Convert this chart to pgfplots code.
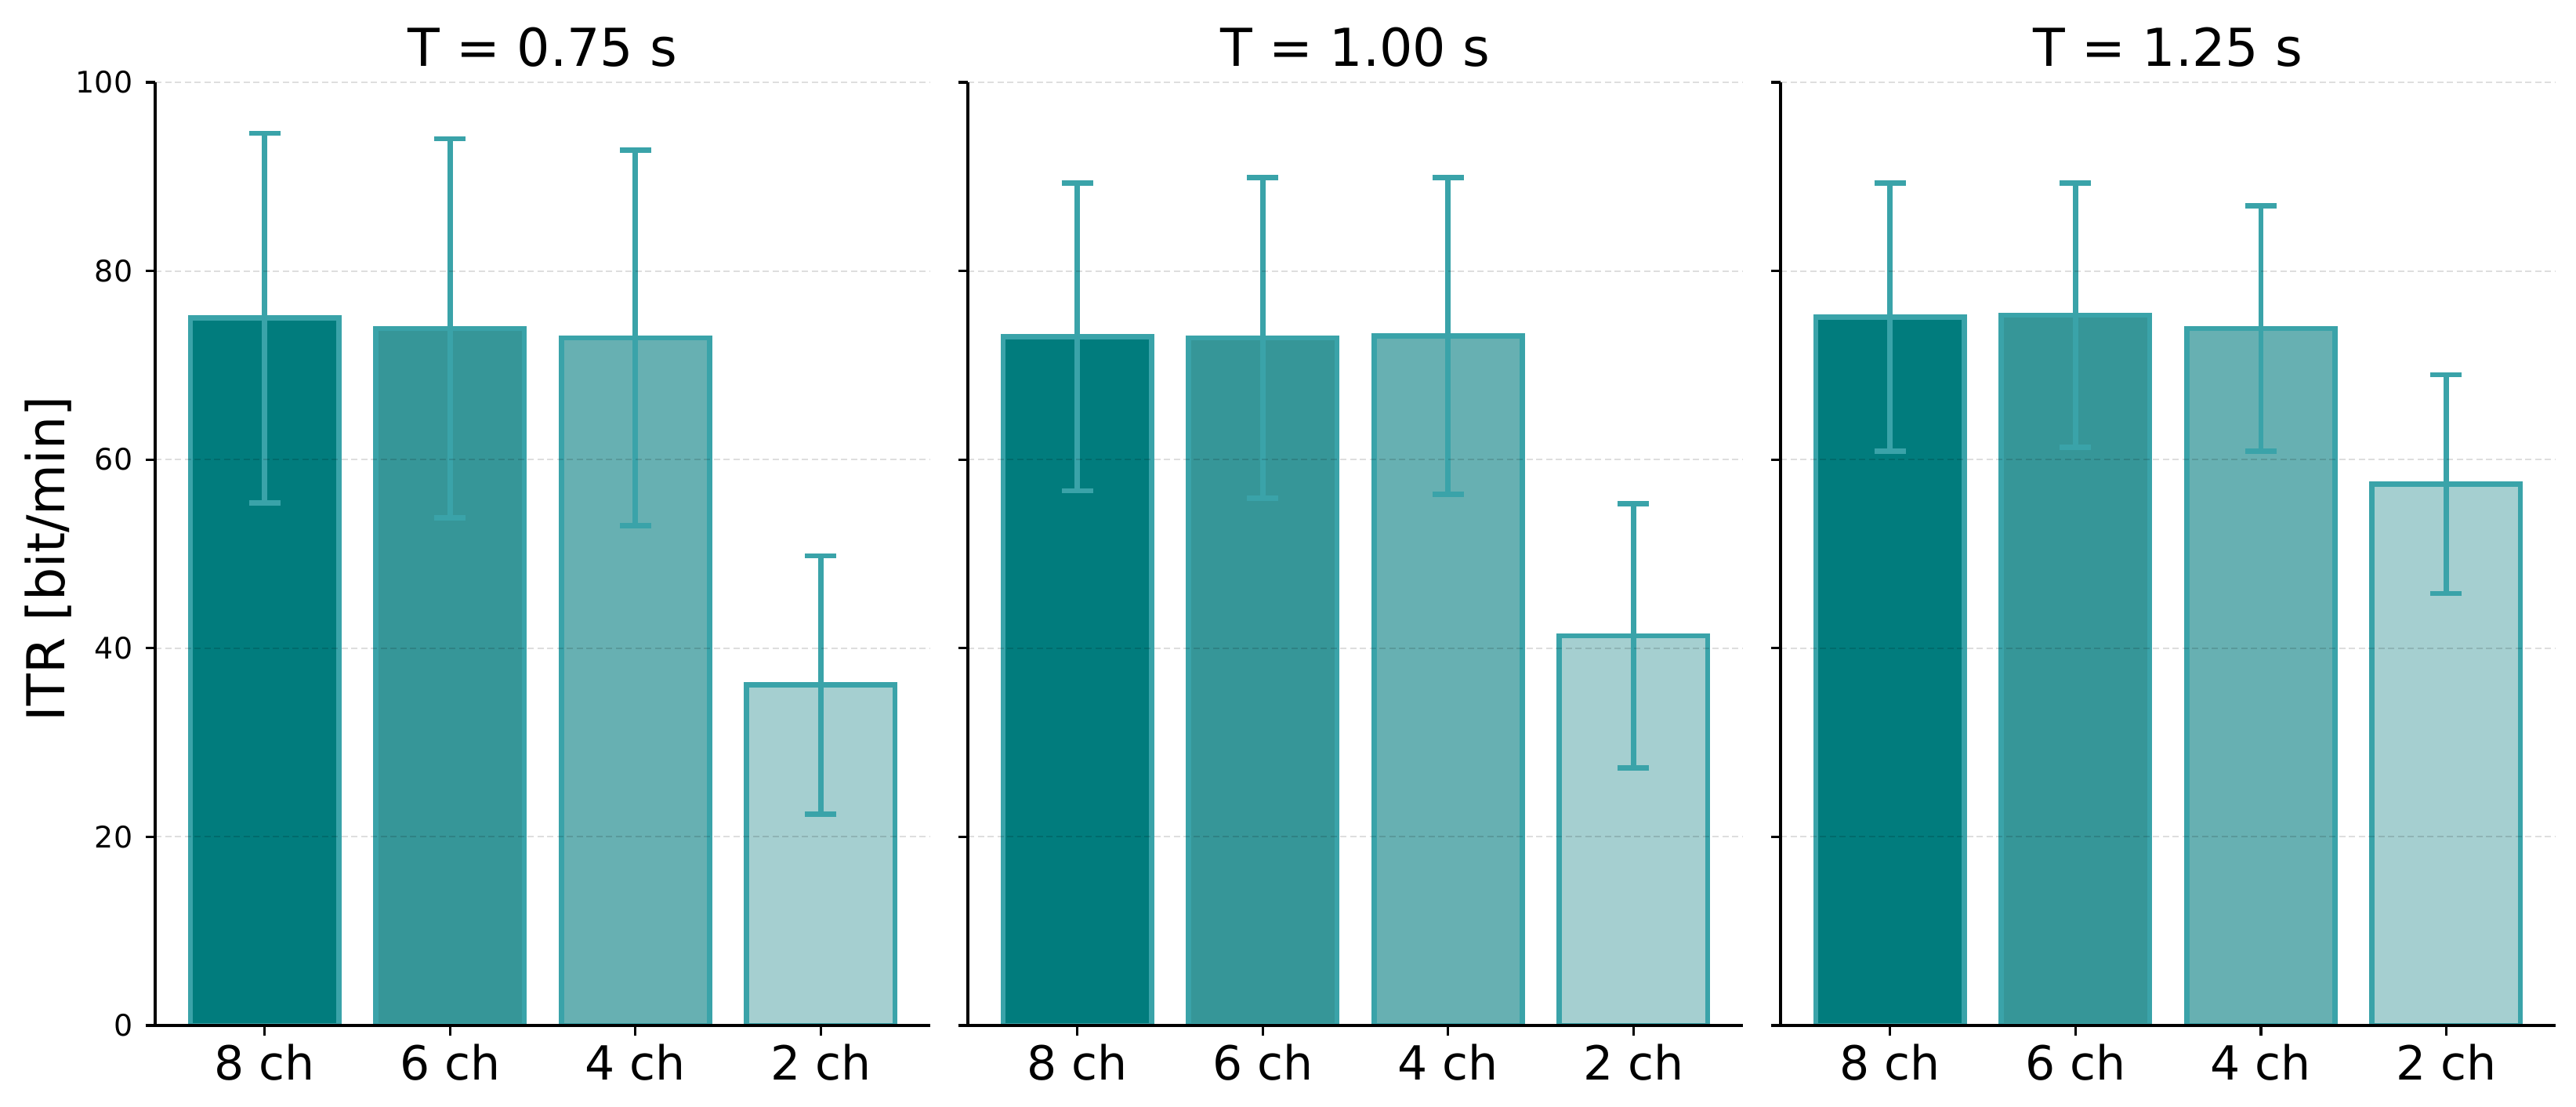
\documentclass[border=0pt]{standalone}
\usepackage{fontspec}
\setmainfont{DejaVu Sans}
\usepackage{pgfplots}
\pgfplotsset{compat=1.18}

\definecolor{cA}{RGB}{1,124,125}
\definecolor{cB}{RGB}{54,150,152}
\definecolor{cC}{RGB}{103,176,178}
\definecolor{cD}{RGB}{165,207,208}
\definecolor{edge}{RGB}{58,163,169}

\pgfplotsset{
  panel/.style={
    scale only axis, width=237.36bp, height=288.72bp,
    anchor=south west,
    xmin=-0.59, xmax=3.59, ymin=0, ymax=100,
    axis x line=bottom, axis y line=left,
    axis line style={-, line width=0.8bp, black},
    xtick={0,1,2,3}, xticklabels={8 ch,6 ch,4 ch,2 ch},
    ytick={0,20,40,60,80,100},
    tick align=outside, major tick length=3bp,
    every tick/.style={line width=0.8bp, black},
    ymajorgrids,
    major grid style={dash pattern=on 2bp off 1bp, line width=0.5bp, black, opacity=0.13},
    axis on top,
    /pgf/number format/assume math mode=true,
    xticklabel style={font=\fontsize{14.4bp}{17bp}\selectfont, inner sep=0pt, anchor=base, yshift=-13.6bp},
    yticklabel style={font=\fontsize{9.1bp}{11bp}\selectfont, inner sep=0pt, anchor=east, xshift=-3.72bp},
    every axis title shift=0pt,
    title style={at={(0.5,1)}, anchor=base, yshift=4.8bp, inner sep=0pt, font=\fontsize{16bp}{19bp}\selectfont},
    ybar, bar width=0.8,
  },
  bb/.style={ybar, bar shift=0pt, fill=#1, draw=edge, line width=1.6bp,
    error bars/.cd, y dir=both, y explicit,
    error bar style={line width=1.6bp, draw=edge, solid},
    error mark options={rotate=90, line width=1.6bp, draw=edge, mark size=4.8bp}},
}

\begin{document}
\begin{tikzpicture}
\path[use as bounding box] (0,0) rectangle (788.88bp,338.88bp);

\begin{axis}[panel, at={(47.52bp,24.96bp)}, title={T = 0.75 s}]
\addplot[bb=cA] coordinates {(0,75.0) +- (0,19.6)};
\addplot[bb=cB] coordinates {(1,73.9) +- (0,20.1)};
\addplot[bb=cC] coordinates {(2,72.9) +- (0,19.9)};
\addplot[bb=cD] coordinates {(3,36.1) +- (0,13.7)};
\end{axis}

\begin{axis}[panel, at={(296.4bp,24.96bp)}, title={T = 1.00 s}, yticklabels={}]
\addplot[bb=cA] coordinates {(0,73.0) +- (0,16.3)};
\addplot[bb=cB] coordinates {(1,72.9) +- (0,17.0)};
\addplot[bb=cC] coordinates {(2,73.1) +- (0,16.8)};
\addplot[bb=cD] coordinates {(3,41.3) +- (0,14.0)};
\end{axis}

\begin{axis}[panel, at={(545.28bp,24.96bp)}, title={T = 1.25 s}, yticklabels={}]
\addplot[bb=cA] coordinates {(0,75.1) +- (0,14.2)};
\addplot[bb=cB] coordinates {(1,75.3) +- (0,14.0)};
\addplot[bb=cC] coordinates {(2,73.9) +- (0,13.0)};
\addplot[bb=cD] coordinates {(3,57.4) +- (0,11.6)};
\end{axis}

\node[rotate=90, anchor=base, inner sep=0pt, font=\fontsize{16bp}{19bp}\selectfont] at (19.8bp,167.8bp) {ITR [bit/min]};
\end{tikzpicture}
\end{document}
